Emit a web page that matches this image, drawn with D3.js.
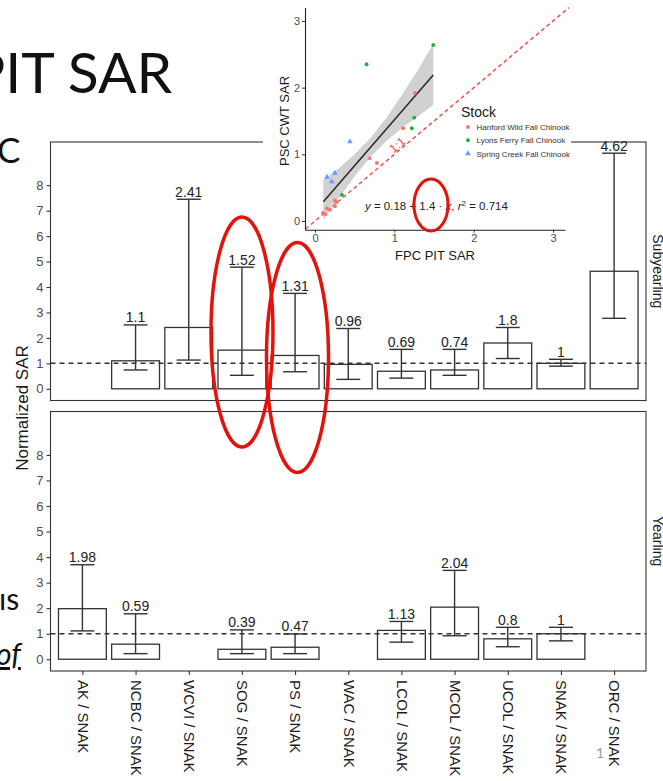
<!DOCTYPE html>
<html lang="en">
<head>
<meta charset="UTF-8">
<title>Normalized SAR</title>
<style>
  body { margin: 0; background: #fff; }
  svg { display: block; }
  .tick text { font-family: "Liberation Sans", Arial, sans-serif; }
</style>
</head>
<body>
<svg id="chart" width="663" height="781"></svg>
<script src="https://d3js.org/d3.v7.min.js"></script>
<script>
// ---- data ----
const categories = ["AK", "NCBC", "WCVI", "SOG", "PS", "WAC", "LCOL", "MCOL", "UCOL", "SNAK", "ORC"];
const xTickLabels = categories.map(c => c + " / SNAK");
const facets = ["Subyearling", "Yearling"];

const subValue = [null, 1.1, 2.41, 1.52, 1.31, 0.96, 0.69, 0.74, 1.8, 1, 4.62];
const subLow   = [null, 0.74, 1.13, 0.53, 0.67, 0.37, 0.42, 0.53, 1.19, 0.89, 2.77];
const subHigh  = [null, 2.51, 7.45, 4.78, 3.75, 2.37, 1.55, 1.55, 2.41, 1.16, 9.26];

const yrValue = [1.98, 0.59, null, 0.39, 0.47, null, 1.13, 2.04, 0.8, 1, null];
const yrLow   = [1.11, 0.22, null, 0.22, 0.22, null, 0.67, 0.92, 0.49, 0.72, null];
const yrHigh  = [3.70, 1.78, null, 1.15, 0.99, null, 1.48, 3.48, 1.25, 1.25, null];

const yTicks = [0, 1, 2, 3, 4, 5, 6, 7, 8];

// inset scatter (FPC PIT SAR vs PSC CWT SAR)
const stocks = ["Hanford Wild Fall Chinook", "Lyons Ferry Fall Chinook", "Spring Creek Fall Chinook"];
const hanfordX = [1.26, 1.11, 0.69, 0.78, 0.25, 0.25, 0.15, 0.10, 0.19, 0.27, 0.13];
const hanfordY = [1.92, 1.39, 0.94, 0.87, 0.31, 0.22, 0.19, 0.12, 0.17, 0.28, 0.10];
const lyonsX = [0.65, 1.49, 1.25, 1.22, 0.34];
const lyonsY = [2.35, 2.64, 1.55, 1.39, 0.39];
const springX = [0.44, 0.15, 0.21, 0.25];
const springY = [1.19, 0.66, 0.59, 0.72];
const fitX = [0.105, 1.49];
const fitY = [0.29, 2.19];
const bandX  = [0.105, 0.3, 0.5, 0.7, 0.9, 1.1, 1.3, 1.49];
const bandLo = [0.02, 0.34, 0.67, 0.96, 1.20, 1.40, 1.57, 1.74];
const bandHi = [0.62, 0.79, 1.00, 1.25, 1.55, 1.90, 2.27, 2.66];
const insetTicks = [0, 1, 2, 3];

// ---- layout ----
const svg = d3.select("#chart");
const font = "'Liberation Sans', Arial, sans-serif";
const left = 50.5, right = 646;
const panels = [
  { name: facets[0], top: 142, bottom: 400.5, value: subValue, low: subLow, high: subHigh },
  { name: facets[1], top: 411.5, bottom: 671, value: yrValue, low: yrLow, high: yrHigh }
];

const x = d3.scalePoint().domain(categories).range([left, right]).padding(0.6);
const barW = x.step() * 0.9;
const capW = barW * 0.5;

// slide text fragments behind the chart
const slide = svg.append("g").attr("font-family", "Lato, 'Open Sans', sans-serif").attr("fill", "#111");
slide.append("text").attr("x", -29).attr("y", 93).attr("font-size", 57).text("PIT SAR");
slide.append("text").attr("x", -3).attr("y", 163).attr("font-size", 35).text("C");
slide.append("text").attr("x", -1).attr("y", 610).attr("font-size", 30).text("ıs");
slide.append("text").attr("x", -4).attr("y", 665).attr("font-size", 30)
  .attr("font-style", "italic").attr("text-decoration", "underline").text("of");
slide.append("text").attr("x", 596).attr("y", 758).attr("font-size", 14).attr("fill", "#9a9a9a").text("1");

panels.forEach((p, pi) => {
  const y = d3.scaleLinear().domain([-0.46, 9.7]).range([p.bottom, p.top]);
  const g = svg.append("g");

  const rows = categories.map((c, i) => ({ c, v: p.value[i], lo: p.low[i], hi: p.high[i] }))
    .filter(d => d.v !== null);

  g.selectAll("rect.bar").data(rows).enter().append("rect")
    .attr("class", "bar")
    .attr("x", d => x(d.c) - barW / 2)
    .attr("width", barW)
    .attr("y", d => y(d.v))
    .attr("height", d => y(0) - y(d.v))
    .attr("fill", "#fff")
    .attr("stroke", "#333")
    .attr("stroke-width", 1.3);

  const eb = g.selectAll("g.err").data(rows).enter().append("g")
    .attr("stroke", "#333").attr("stroke-width", 1.4);
  eb.append("line").attr("x1", d => x(d.c)).attr("x2", d => x(d.c))
    .attr("y1", d => y(d.lo)).attr("y2", d => y(d.hi));
  eb.append("line").attr("x1", d => x(d.c) - capW / 2).attr("x2", d => x(d.c) + capW / 2)
    .attr("y1", d => y(d.lo)).attr("y2", d => y(d.lo));
  eb.append("line").attr("x1", d => x(d.c) - capW / 2).attr("x2", d => x(d.c) + capW / 2)
    .attr("y1", d => y(d.hi)).attr("y2", d => y(d.hi));

  g.selectAll("text.val").data(rows).enter().append("text")
    .attr("x", d => x(d.c))
    .attr("y", d => y(d.hi) - 2.5)
    .attr("text-anchor", "middle")
    .attr("font-family", font)
    .attr("font-size", 14)
    .attr("fill", "#222")
    .text(d => d.v);

  // reference line at 1
  g.append("line")
    .attr("x1", left).attr("x2", right)
    .attr("y1", y(1)).attr("y2", y(1))
    .attr("stroke", "#333").attr("stroke-width", 1.5)
    .attr("stroke-dasharray", "5,4");

  // panel border
  g.append("rect")
    .attr("x", left).attr("y", p.top)
    .attr("width", right - left).attr("height", p.bottom - p.top)
    .attr("fill", "none").attr("stroke", "#333").attr("stroke-width", 1.1);

  // y axis
  const ya = g.append("g").attr("transform", `translate(${left},0)`)
    .call(d3.axisLeft(y).tickValues(yTicks).tickSize(4).tickSizeOuter(0).tickPadding(3));
  ya.select(".domain").remove();
  ya.selectAll(".tick line").attr("stroke", "#333").attr("stroke-width", 1.1);
  ya.selectAll(".tick text").attr("font-size", 13).attr("fill", "#4d4d4d");

  // facet strip label
  g.append("text")
    .attr("transform", `translate(653,${(p.top + p.bottom) / 2}) rotate(90)`)
    .attr("text-anchor", "middle")
    .attr("font-family", font)
    .attr("font-size", 14)
    .attr("fill", "#1a1a1a")
    .text(p.name);

  if (pi === 1) {
    const xa = g.append("g").attr("transform", `translate(0,${p.bottom})`)
      .call(d3.axisBottom(x).tickSize(4).tickSizeOuter(0).tickFormat((d, i) => xTickLabels[i]));
    xa.select(".domain").remove();
    xa.selectAll(".tick line").attr("stroke", "#333").attr("stroke-width", 1.1);
    xa.selectAll(".tick text")
      .attr("font-size", 15)
      .attr("fill", "#1a1a1a")
      .attr("transform", "rotate(90)")
      .attr("text-anchor", "start")
      .attr("x", 9)
      .attr("y", 0)
      .attr("dy", "0.35em");
  }
});

// y axis title
svg.append("text")
  .attr("transform", "translate(28,408) rotate(-90)")
  .attr("text-anchor", "middle")
  .attr("font-family", font)
  .attr("font-size", 17)
  .attr("fill", "#1a1a1a")
  .text("Normalized SAR");

// ---- inset scatter ----
const inset = svg.append("g");
inset.append("rect").attr("x", 263).attr("y", 0).attr("width", 308).attr("height", 263).attr("fill", "#fff");

const sx = d3.scaleLinear().domain([-0.126, 3.15]).range([305, 565]);
const sy = d3.scaleLinear().domain([-0.13, 3.2]).range([229.7, 7.6]);

// 1:1 line
inset.append("line")
  .attr("x1", sx(-0.12)).attr("y1", sy(-0.12))
  .attr("x2", sx(3.2)).attr("y2", sy(3.2))
  .attr("stroke", "#ee4b43").attr("stroke-width", 1.4)
  .attr("stroke-dasharray", "4,3");
const ang = Math.atan2(sy(1) - sy(0), sx(1) - sx(0)) * 180 / Math.PI;
inset.append("text")
  .attr("transform", `translate(${sx(1.08)},${sy(1.08)}) rotate(${ang})`)
  .attr("text-anchor", "middle").attr("dy", "-0.1em")
  .attr("font-family", font).attr("font-size", 12).attr("fill", "#ee4b43")
  .text("1:1");

// confidence band and fit
const bandData = bandX.map((v, i) => ({ x: v, lo: bandLo[i], hi: bandHi[i] }));
inset.append("path").datum(bandData)
  .attr("d", d3.area().x(d => sx(d.x)).y0(d => sy(d.lo)).y1(d => sy(d.hi)))
  .attr("fill", "#c9c9c9").attr("opacity", 0.85);
inset.append("line")
  .attr("x1", sx(fitX[0])).attr("y1", sy(fitY[0]))
  .attr("x2", sx(fitX[1])).attr("y2", sy(fitY[1]))
  .attr("stroke", "#222").attr("stroke-width", 1.4);

const colors = ["#F8766D", "#1fb33a", "#619CFF"];
const pts = [
  ...hanfordX.map((v, i) => ({ x: v, y: hanfordY[i], s: 0 })),
  ...lyonsX.map((v, i) => ({ x: v, y: lyonsY[i], s: 1 })),
  ...springX.map((v, i) => ({ x: v, y: springY[i], s: 2 }))
];
const tri = d3.symbol().type(d3.symbolTriangle).size(14);
const dot = d3.symbol().type(d3.symbolCircle).size(12);
inset.selectAll("path.pt").data(pts).enter().append("path")
  .attr("class", "pt")
  .attr("transform", d => `translate(${sx(d.x)},${sy(d.y)})`)
  .attr("d", d => d.s === 2 ? tri() : dot())
  .attr("fill", d => colors[d.s]);

// inset axes
const ix = inset.append("g").attr("transform", "translate(0,229.7)")
  .call(d3.axisBottom(sx).tickValues(insetTicks).tickFormat(d3.format("d"))
    .tickSize(3).tickSizeOuter(0).tickPadding(2));
const iy = inset.append("g").attr("transform", "translate(305,0)")
  .call(d3.axisLeft(sy).tickValues(insetTicks).tickFormat(d3.format("d"))
    .tickSize(3).tickSizeOuter(0).tickPadding(2));
[ix, iy].forEach(a => {
  a.select(".domain").attr("stroke", "#222").attr("stroke-width", 1.1);
  a.selectAll(".tick line").attr("stroke", "#333");
  a.selectAll(".tick text").attr("font-size", 11).attr("fill", "#4d4d4d");
});
inset.append("text").attr("x", 435).attr("y", 260).attr("text-anchor", "middle")
  .attr("font-family", font).attr("font-size", 13).attr("fill", "#1a1a1a").text("FPC PIT SAR");
inset.append("text").attr("transform", "translate(289,121) rotate(-90)").attr("text-anchor", "middle")
  .attr("font-family", font).attr("font-size", 13).attr("fill", "#1a1a1a").text("PSC CWT SAR");

// equation
const eq = inset.append("text").attr("x", 365).attr("y", 209.5)
  .attr("font-family", font).attr("font-size", 11.5).attr("fill", "#222");
eq.append("tspan").attr("font-style", "italic").text("y");
eq.append("tspan").text(" = 0.18 + 1.4 · ");
eq.append("tspan").attr("font-style", "italic").text("x");
eq.append("tspan").text(",  ");
eq.append("tspan").attr("font-style", "italic").text("r");
eq.append("tspan").attr("font-size", 8).attr("dy", -4).text("2");
eq.append("tspan").attr("dy", 4).text(" = 0.714");

// legend
const lg = inset.append("g").attr("font-family", font);
lg.append("text").attr("x", 461).attr("y", 117).attr("font-size", 14).attr("fill", "#1a1a1a").text("Stock");
stocks.forEach((s, i) => {
  const cy = 127 + i * 13.3;
  lg.append("path")
    .attr("transform", `translate(468,${cy})`)
    .attr("d", i === 2 ? tri() : dot())
    .attr("fill", colors[i]);
  lg.append("text").attr("x", 476.5).attr("y", cy + 3).attr("font-size", 8).attr("fill", "#333").text(s);
});

// red annotation ellipses
const marks = svg.append("g").attr("fill", "none").attr("stroke", "#e3120b").attr("stroke-width", 3.5);
marks.append("ellipse").attr("cx", 242).attr("cy", 332).attr("rx", 31).attr("ry", 115);
marks.append("ellipse").attr("cx", 297.5).attr("cy", 357.5).attr("rx", 31).attr("ry", 115);
marks.append("ellipse").attr("cx", 431).attr("cy", 205).attr("rx", 17).attr("ry", 26).attr("stroke-width", 3);
</script>
</body>
</html>
